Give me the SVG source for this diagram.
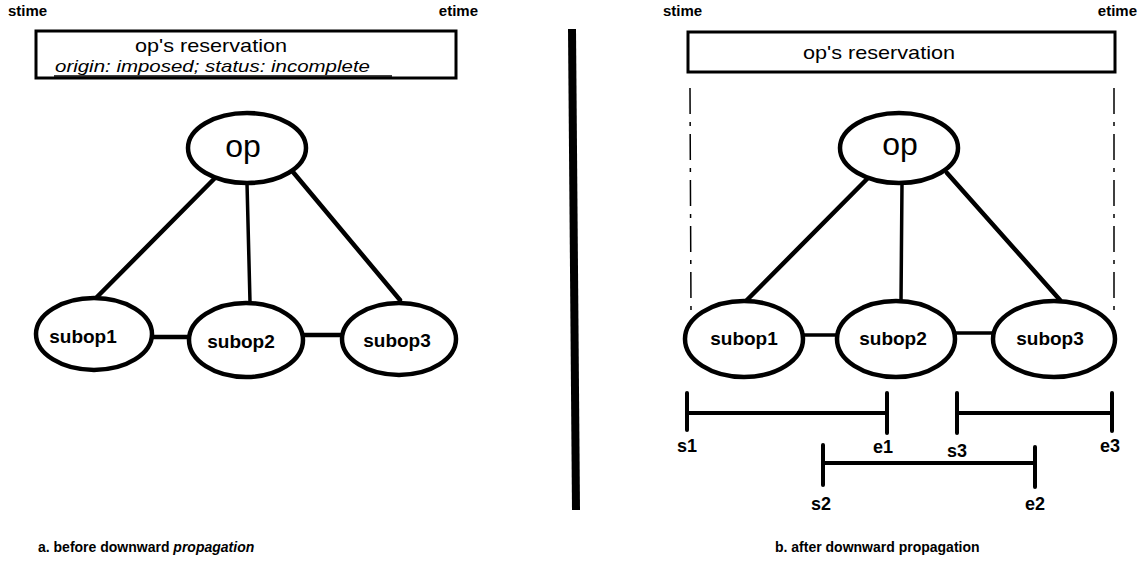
<svg xmlns="http://www.w3.org/2000/svg" width="1140" height="567" viewBox="0 0 1140 567">
<style>
  .bg{fill:#fff}
  .node{fill:#fff;stroke:#000;stroke-width:4.5}
  .box{fill:#fff;stroke:#000;stroke-width:3}
  .edge{stroke:#000;stroke-width:4.5;fill:none;stroke-linecap:round}
  .thin{stroke-width:3.5}
  .dash{stroke:#000;stroke-width:1.5;fill:none;stroke-dasharray:26 8 4 8}
  .tick{stroke:#000;stroke-width:4;fill:none;stroke-linecap:round}
  .t{font-family:"Liberation Sans",Arial,sans-serif;fill:#000}
  .lbl{font-size:15px;font-weight:bold}
  .res{font-size:19px}
  .orig{font-size:17px;font-style:italic}
  .op{font-size:32px}
  .sub{font-size:19px;font-weight:bold}
  .pt{font-size:18px;font-weight:bold}
  .cap{font-size:14px;font-weight:bold}
</style>
<rect class="bg" x="0" y="0" width="1140" height="567"/>

<!-- divider -->
<line x1="572" y1="29" x2="576" y2="510" stroke="#000" stroke-width="8"/>

<!-- Panel a -->
<g id="a-times">
  <text class="t lbl" x="8" y="16">stime</text>
  <text class="t lbl" x="478" y="16" text-anchor="end">etime</text>
</g>
<g id="a-reservation">
  <rect class="box" x="36" y="31" width="420" height="47"/>
  <text class="t res" x="211" y="52" text-anchor="middle" textLength="152" lengthAdjust="spacingAndGlyphs">op's reservation</text>
  <text class="t orig" x="55" y="72" textLength="315" lengthAdjust="spacingAndGlyphs">origin: imposed;  status: incomplete</text>
  <line x1="54" y1="76" x2="392" y2="76" stroke="#000" stroke-width="1.5"/>
</g>

<g id="a-connectors">
  <line class="edge" x1="215" y1="178" x2="96" y2="298"/>
  <line class="edge thin" x1="247" y1="183" x2="250" y2="302"/>
  <line class="edge" x1="293" y1="172" x2="400" y2="300"/>
  <line class="edge" x1="153" y1="337" x2="188" y2="337"/>
  <line class="edge" x1="303" y1="335" x2="342" y2="335"/>
</g>

<g id="a-op">
  <ellipse class="node" cx="247" cy="148" rx="59" ry="35"/>
  <text class="t op" x="243" y="157" text-anchor="middle">op</text>
</g>
<g id="a-subop1">
  <ellipse class="node" cx="94" cy="334" rx="58" ry="36"/>
  <text class="t sub" x="83" y="343" text-anchor="middle">subop1</text>
</g>
<g id="a-subop2">
  <ellipse class="node" cx="246" cy="340" rx="57" ry="37"/>
  <text class="t sub" x="241" y="348" text-anchor="middle">subop2</text>
</g>
<g id="a-subop3">
  <ellipse class="node" cx="399" cy="339" rx="57" ry="36"/>
  <text class="t sub" x="397" y="347" text-anchor="middle">subop3</text>
</g>

<text class="t cap" x="38" y="552">a. before downward <tspan font-style="italic">propagation</tspan></text>

<!-- Panel b -->
<g id="b-times">
  <text class="t lbl" x="663" y="16">stime</text>
  <text class="t lbl" x="1137" y="16" text-anchor="end">etime</text>
</g>
<g id="b-reservation">
  <rect class="box" x="688" y="32" width="427" height="40"/>
  <text class="t res" x="879" y="59" text-anchor="middle" textLength="152" lengthAdjust="spacingAndGlyphs">op's reservation</text>
</g>

<g id="b-connectors">
  <line class="dash" x1="690" y1="88" x2="691" y2="312"/>
  <line class="dash" x1="1114" y1="88" x2="1114" y2="312"/>
  <line class="edge" x1="868" y1="178" x2="745" y2="302"/>
  <line class="edge thin" x1="902" y1="183" x2="901" y2="302"/>
  <line class="edge" x1="947" y1="173" x2="1060" y2="300"/>
  <line class="edge thin" x1="803" y1="335" x2="837" y2="335"/>
  <line class="edge thin" x1="955" y1="333" x2="993" y2="333"/>
</g>

<g id="b-op">
  <ellipse class="node" cx="899" cy="148" rx="59" ry="35"/>
  <text class="t op" x="900" y="155" text-anchor="middle">op</text>
</g>
<g id="b-subop1">
  <ellipse class="node" cx="744" cy="339" rx="59" ry="38"/>
  <text class="t sub" x="744" y="345" text-anchor="middle">subop1</text>
</g>
<g id="b-subop2">
  <ellipse class="node" cx="896" cy="339" rx="59" ry="38"/>
  <text class="t sub" x="893" y="345" text-anchor="middle">subop2</text>
</g>
<g id="b-subop3">
  <ellipse class="node" cx="1054" cy="339" rx="61" ry="38"/>
  <text class="t sub" x="1050" y="345" text-anchor="middle">subop3</text>
</g>

<g id="b-interval1">
  <line class="tick" x1="687" y1="413" x2="887" y2="413"/>
  <line class="tick" x1="687" y1="393" x2="687" y2="430"/>
  <line class="tick" x1="887" y1="393" x2="887" y2="433"/>
  <text class="t pt" x="677" y="452">s1</text>
  <text class="t pt" x="873" y="453">e1</text>
</g>
<g id="b-interval3">
  <line class="tick" x1="957" y1="413" x2="1112" y2="413"/>
  <line class="tick" x1="957" y1="393" x2="957" y2="433"/>
  <line class="tick" x1="1112" y1="393" x2="1112" y2="431"/>
  <text class="t pt" x="947" y="457">s3</text>
  <text class="t pt" x="1100" y="452">e3</text>
</g>
<g id="b-interval2">
  <line class="tick" x1="823" y1="463" x2="1035" y2="463"/>
  <line class="tick" x1="823" y1="445" x2="823" y2="485"/>
  <line class="tick" x1="1035" y1="447" x2="1035" y2="487"/>
  <text class="t pt" x="811" y="510">s2</text>
  <text class="t pt" x="1025" y="510">e2</text>
</g>

<text class="t cap" x="775" y="552">b. after downward propagation</text>
</svg>
